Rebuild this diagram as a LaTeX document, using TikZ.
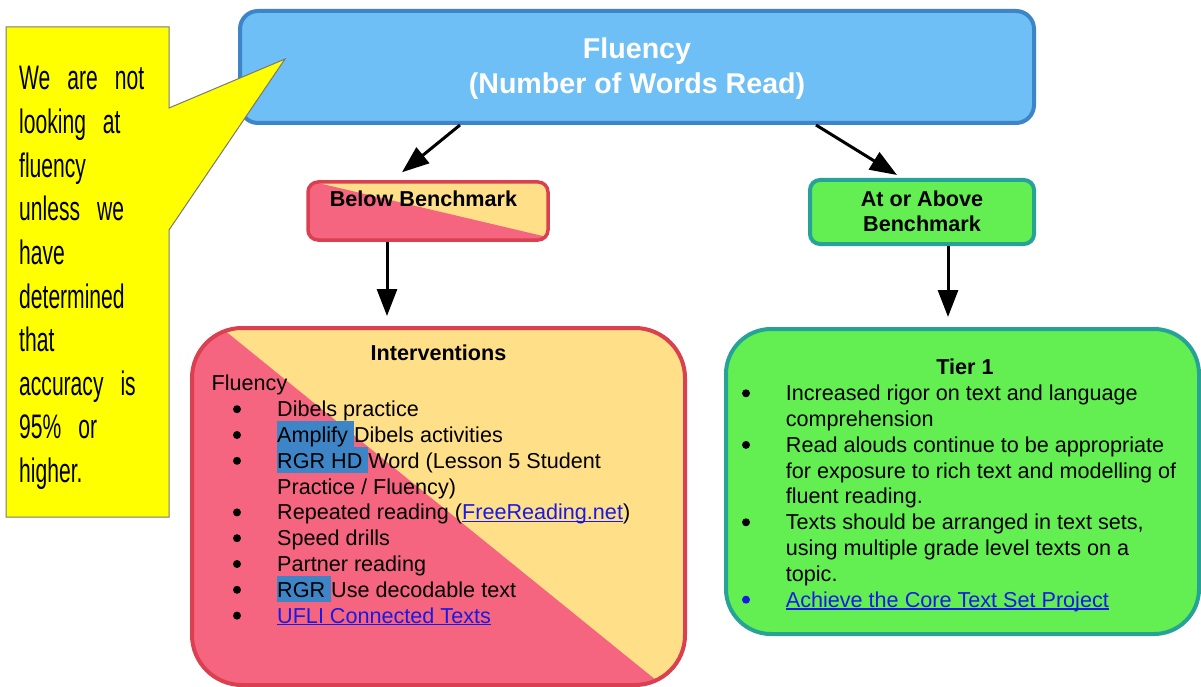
\documentclass[tikz,border=0pt]{standalone}
\usepackage{fontspec}
\setmainfont{Liberation Sans}
\newfontfamily\notefont{Liberation Sans}[FakeStretch=0.62]
\usetikzlibrary{arrows.meta,calc}

\definecolor{skyfill}{RGB}{110,191,245}
\definecolor{skyline}{RGB}{61,133,198}
\definecolor{rosefill}{RGB}{246,101,127}
\definecolor{sandfill}{RGB}{255,224,137}
\definecolor{roseline}{RGB}{218,64,79}
\definecolor{limefill}{RGB}{99,239,82}
\definecolor{tealline}{RGB}{38,163,150}
\definecolor{hlblue}{RGB}{61,133,198}
\definecolor{linkblue}{RGB}{25,25,230}
\definecolor{notegray}{RGB}{120,120,120}
\definecolor{noteyellow}{RGB}{255,255,0}

% highlighted word run
\newcommand\hlrun[1]{{\setlength\fboxsep{0pt}\colorbox{hlblue}{\rule[-5pt]{0pt}{26pt}#1}}}
% underlined blue link text
\newcommand\lnk[1]{\textcolor{linkblue}{\setbox0\hbox{#1}\rlap{\rule[-2.4pt]{\wd0}{1.3pt}}\box0}}
% font set-up for the sticky note
\newcommand\notesetup{\notefont\fontsize{34}{40}\selectfont\spaceskip=17pt\relax}

\begin{document}
\begin{tikzpicture}[x=1pt,y=-1pt,
  box/.style={rectangle, inner sep=0pt, line width=4pt},
  arr/.style={line width=3pt, -{Triangle[length=27pt,width=20pt]}},
  body/.style={anchor=base west, inner sep=0pt, font=\fontsize{21.6}{25.8}\selectfont},
  head/.style={anchor=base, inner sep=0pt, font=\fontsize{21.6}{25.8}\selectfont\bfseries},
  note/.style={anchor=base west, inner sep=0pt, font=\notesetup},
  dot/.style={fill=black}
]
\useasboundingbox[fill=white] (0,0) rectangle (1201,687);

% top box
\node[box, fill=skyfill, draw=skyline, minimum width=794pt, minimum height=112pt,
      rounded corners=18pt] (fl) at (637,67) {};
\node[anchor=base, inner sep=0pt, text=white, font=\fontsize{28.6}{35}\selectfont\bfseries]
  (fltitle) at (637,58.5) {Fluency};
\node[anchor=base, inner sep=0pt, text=white, font=\fontsize{28.6}{35}\selectfont\bfseries]
  (flsub) at (637,94) {(Number of Words Read)};

% below benchmark box, split diagonally into two fills
\node[box, line width=3.5pt, fill=sandfill, draw=roseline, minimum width=240pt, minimum height=58pt,
      rounded corners=10pt,
      path picture={\fill[rosefill, sharp corners]
        ($(path picture bounding box.north west)+(-18,-5.6)$)
        -- ($(path picture bounding box.south east)+(22,2.4)$)
        -- ($(path picture bounding box.south east)+(22,20)$)
        -- ($(path picture bounding box.south west)+(-18,20)$) -- cycle;}]
  (below) at (428,211) {};
\node[head] (belowtxt) at (423.5,206) {Below Benchmark};

% at or above benchmark box
\node[box, fill=limefill, draw=tealline, minimum width=224pt, minimum height=64pt,
      rounded corners=10pt] (ab) at (922,212) {};
\node[head] (abtxt1) at (922,206) {At or Above};
\node[head] (abtxt2) at (922,231.7) {Benchmark};

% interventions box, split diagonally into two fills
\node[box, fill=sandfill, draw=roseline, minimum width=493pt, minimum height=357pt,
      rounded corners=50pt,
      path picture={\fill[rosefill, sharp corners]
        ($(path picture bounding box.north west)+(-42,-58)$)
        -- ($(path picture bounding box.south east)+(35,47)$)
        -- ($(path picture bounding box.south west)+(-42,47)$) -- cycle;}]
  (iv) at (438.5,506.5) {};
\node[head] (ivtitle) at (438.5,360.7) {Interventions};
\node[body] (ivsub) at (211.5,390.7) {Fluency};
\foreach \k in {0,1,2,4,5,6,7,8} \fill[dot] (237,416.6+25.8*\k-7.4) circle (4pt);
\node[body] (iv1) at (277,416.6) {Dibels practice};
\node[body] (iv2) at (277,442.4) {\hlrun{Amplify }Dibels activities};
\node[body] (iv3) at (277,468.2) {\hlrun{RGR HD }Word (Lesson 5 Student};
\node[body] (iv4) at (277,494.0) {Practice / Fluency)};
\node[body] (iv5) at (277,519.8) {Repeated reading (\lnk{FreeReading.net})};
\node[body] (iv6) at (277,545.6) {Speed drills};
\node[body] (iv7) at (277,571.4) {Partner reading};
\node[body] (iv8) at (277,597.2) {\hlrun{RGR }Use decodable text};
\node[body] (iv9) at (277,623.0) {\lnk{UFLI Connected Texts}};

% tier 1 box
\node[box, fill=limefill, draw=tealline, minimum width=473pt, minimum height=305pt,
      rounded corners=45pt] (tier) at (962.5,481.5) {};
\node[head] (tiertitle) at (965,374) {Tier 1};
\foreach \k in {0,2,5} \fill[dot] (746,400.7+25.8*\k-7.4) circle (4pt);
\fill[linkblue] (746,400.7+25.8*8-7.4) circle (4pt);
\node[body] (t1) at (785.7,400.7) {Increased rigor on text and language};
\node[body] (t2) at (785.7,426.5) {comprehension};
\node[body] (t3) at (785.7,452.3) {Read alouds continue to be appropriate};
\node[body] (t4) at (785.7,478.1) {for exposure to rich text and modelling of};
\node[body] (t5) at (785.7,503.9) {fluent reading.};
\node[body] (t6) at (785.7,529.7) {Texts should be arranged in text sets,};
\node[body] (t7) at (785.7,555.5) {using multiple grade level texts on a};
\node[body] (t8) at (785.7,581.3) {topic.};
\node[body] (t9) at (785.7,607.1) {\lnk{Achieve the Core Text Set Project}};

% connectors
\draw[arr] ($(fl.south west)+(222,0)$) -- ($(below.north)+(-26,-8)$);
\draw[arr] ($(fl.south west)+(578,0)$) -- ($(ab.north)+(-25,-3)$);
\draw[arr] ($(below.south)+(-41,0)$) -- ($(iv.north)+(-51.5,-10)$);
\draw[arr] ($(ab.south)+(26,0)$) -- ($(tier.north)+(-14.5,-10)$);

% speech-bubble note pointing at the top box
\coordinate (tip) at (285,59);
\draw[fill=noteyellow, draw=notegray, line width=1pt]
  (6,27) -- (169,27) -- (169,108) -- (tip) -- (169,230) -- (169,517) -- (6,517) -- cycle;
\node[note] (n1) at (19,90) {We are not};
\node[note] (n2) at (19,133.6) {looking at};
\node[note] (n3) at (19,177.2) {fluency};
\node[note] (n4) at (19,220.8) {unless we};
\node[note] (n5) at (19,264.4) {have};
\node[note] (n6) at (19,308) {determined};
\node[note] (n7) at (19,351.6) {that};
\node[note] (n8) at (19,395.2) {accuracy is};
\node[note] (n9) at (19,438.8) {95\% or};
\node[note] (n10) at (19,482.4) {higher.};
\end{tikzpicture}
\end{document}
